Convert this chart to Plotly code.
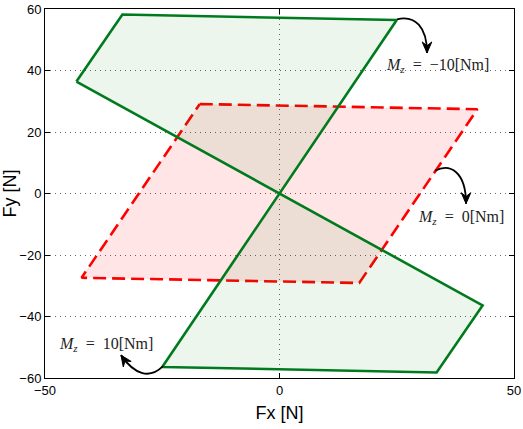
import math
import plotly.graph_objects as go

# Force envelope polygons (Fx, Fy) in N for three aligning moments
green_fx = [-43.3, -33.5, 25.0, -25.0, 33.5, 43.3, -43.3]
green_fy = [36.4, 58.2, 56.4, -56.4, -58.2, -36.4, 36.4]

red_fx = [-17.0, 42.2, 17.0, -42.2, -17.0]
red_fy = [29.1, 27.4, -29.1, -27.4, 29.1]

# Moment labels and their anchor points
labels = ["<i>M</i><sub><i>z</i></sub>&nbsp; = &nbsp;−10[Nm]",
          "<i>M</i><sub><i>z</i></sub>&nbsp; = &nbsp;0[Nm]",
          "<i>M</i><sub><i>z</i></sub>&nbsp; = &nbsp;10[Nm]"]
label_x = [33.6, 38.6, -37.0]
label_y = [41.5, -7.8, -49.1]

# Curved arrows: cubic Bezier control points (P0, P1, P2, P3) in data units
arrow_x = [[25.05, 28.89, 31.45, 31.45],
           [33.16, 36.35, 39.77, 39.77],
           [-24.84, -27.61, -30.81, -33.80]]
arrow_y = [[56.66, 58.12, 54.16, 45.71],
           [7.40, 10.0, 7.08, -3.31],
           [-56.14, -60.36, -59.16, -52.56]]

x_ticks = [-50, 0, 50]
y_ticks = [-60, -40, -20, 0, 20, 40, 60]

X_RANGE = [-50, 50]
Y_RANGE = [-60, 60]
WIDTH, HEIGHT = 523, 429
MARGIN = dict(l=45, r=9, t=9, b=51)

# pixels per data unit, used to orient the arrowheads along each curve
sx = (WIDTH - MARGIN["l"] - MARGIN["r"]) / (X_RANGE[1] - X_RANGE[0])
sy = (HEIGHT - MARGIN["t"] - MARGIN["b"]) / (Y_RANGE[1] - Y_RANGE[0])


def arrowhead_path(tip_x, tip_y, from_x, from_y, length=11.0, half=4.8):
    """Stealth-style arrowhead at the tip, pointing along from -> tip."""
    dx = (tip_x - from_x) * sx
    dy = (tip_y - from_y) * sy
    n = math.hypot(dx, dy)
    ux, uy = dx / n, dy / n
    px, py = -uy, ux

    def pt(along, side):
        return (tip_x + (-along * ux + side * px) / sx,
                tip_y + (-along * uy + side * py) / sy)

    a = pt(0, 0)
    b = pt(length, half)
    c = pt(0.65 * length, 0)
    d = pt(length, -half)
    return "M {},{} L {},{} L {},{} L {},{} Z".format(*a, *b, *c, *d)


fig = go.Figure()

fig.add_trace(go.Scatter(
    x=red_fx, y=red_fy, mode="lines", fill="toself",
    fillcolor="rgba(255,0,0,0.10)",
    line=dict(color="#ff0000", width=2.6, dash="13px,6px"),
    hoverinfo="skip", showlegend=False))

fig.add_trace(go.Scatter(
    x=green_fx, y=green_fy, mode="lines", fill="toself",
    fillcolor="rgba(0,128,0,0.075)",
    line=dict(color="#007a1e", width=2.6),
    hoverinfo="skip", showlegend=False))

for ax_pts, ay_pts in zip(arrow_x, arrow_y):
    path = "M {},{} C {},{} {},{} {},{}".format(
        ax_pts[0], ay_pts[0], ax_pts[1], ay_pts[1],
        ax_pts[2], ay_pts[2], ax_pts[3], ay_pts[3])
    fig.add_shape(type="path", path=path, xref="x", yref="y",
                  line=dict(color="black", width=1.8))
    fig.add_shape(type="path", xref="x", yref="y",
                  path=arrowhead_path(ax_pts[3], ay_pts[3],
                                      ax_pts[2], ay_pts[2]),
                  fillcolor="black", line=dict(color="black", width=1))

for txt, lx, ly in zip(labels, label_x, label_y):
    fig.add_annotation(x=lx, y=ly, xref="x", yref="y", text=txt,
                       showarrow=False, xanchor="center", yanchor="middle",
                       font=dict(family="Liberation Serif", size=16,
                                 color="#222222"))

axis_common = dict(
    showline=True, linecolor="black", linewidth=1, mirror="ticks",
    ticks="inside", ticklen=5, tickcolor="black", tickwidth=1,
    showgrid=True, gridcolor="rgba(0,0,0,0.6)", griddash="1px,4px",
    gridwidth=1, zeroline=False,
    tickfont=dict(family="Liberation Sans", size=13, color="black"),
)

fig.update_xaxes(range=X_RANGE, tickvals=x_ticks,
                 title=dict(text="Fx [N]", standoff=9,
                            font=dict(family="Liberation Sans", size=18,
                                      color="black")),
                 **axis_common)
fig.update_yaxes(range=Y_RANGE, tickvals=y_ticks,
                 title=dict(text="Fy [N]", standoff=4,
                            font=dict(family="Liberation Sans", size=18,
                                      color="black")),
                 **axis_common)

fig.update_layout(
    width=WIDTH, height=HEIGHT,
    margin=dict(**MARGIN, autoexpand=False),
    plot_bgcolor="white", paper_bgcolor="white",
)

fig.write_html("out.html")
